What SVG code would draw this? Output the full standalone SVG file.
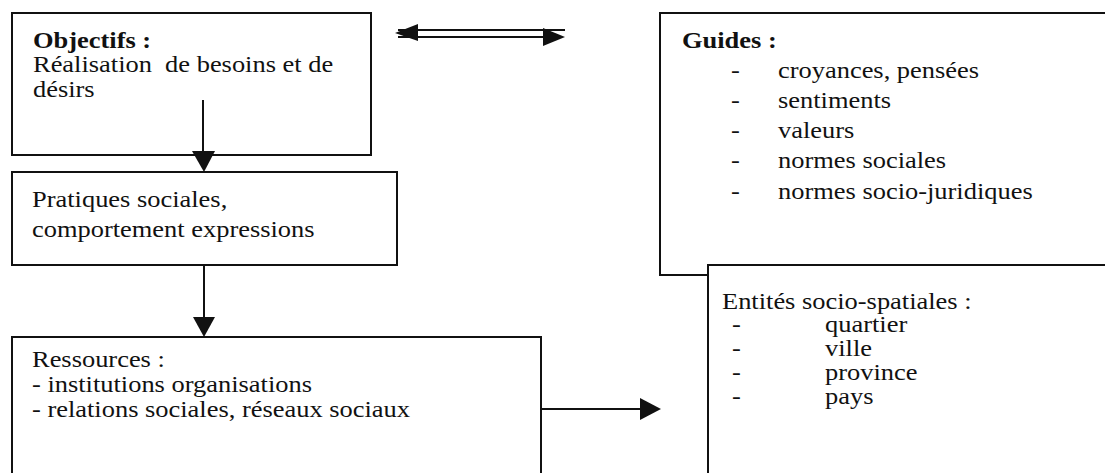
<svg xmlns="http://www.w3.org/2000/svg" width="1105" height="473" viewBox="0 0 1105 473">
<style>
.box{fill:#fff;stroke:#111;stroke-width:2}
.t{font-size:23px;fill:#111}
.b{font-weight:bold}
.ln{stroke:#111;stroke-width:2;fill:none}
.ah{fill:#111}
</style>
<rect width="1105" height="473" fill="#fff"/>
<g font-family="Liberation Serif, Times New Roman, DejaVu Serif, serif">
<g id="objectifs">
<rect class="box" x="12" y="13" width="359" height="142"/>
<g transform="translate(33,0) scale(1.15,1)">
<text class="t b" x="0" y="48">Objectifs :</text>
<text class="t" x="0" y="72" xml:space="preserve">Réalisation  de besoins et de</text>
<text class="t" x="0" y="97">désirs</text>
</g>
</g>
<g id="pratiques">
<rect class="box" x="12" y="172" width="385" height="93"/>
<g transform="translate(32,0) scale(1.15,1)">
<text class="t" x="0" y="207">Pratiques sociales,</text>
<text class="t" x="0" y="237">comportement expressions</text>
</g>
</g>
<g id="ressources">
<rect class="box" x="12" y="337" width="529" height="150"/>
<g transform="translate(32,0) scale(1.15,1)">
<text class="t" x="0" y="367">Ressources :</text>
<text class="t" x="0" y="392">- institutions organisations</text>
<text class="t" x="0" y="417">- relations sociales, réseaux sociaux</text>
</g>
</g>
<g id="guides">
<rect class="box" x="660" y="13" width="460" height="262"/>
<g transform="translate(682,0) scale(1.15,1)">
<text class="t b" x="0" y="48">Guides :</text>
</g>
<g transform="translate(731,0) scale(1.15,1)">
<text class="t" x="0" y="78">-</text>
<text class="t" x="0" y="108">-</text>
<text class="t" x="0" y="138">-</text>
<text class="t" x="0" y="168">-</text>
<text class="t" x="0" y="199">-</text>
</g>
<g transform="translate(778,0) scale(1.15,1)">
<text class="t" x="0" y="78">croyances, pensées</text>
<text class="t" x="0" y="108">sentiments</text>
<text class="t" x="0" y="138">valeurs</text>
<text class="t" x="0" y="168">normes sociales</text>
<text class="t" x="0" y="199">normes socio-juridiques</text>
</g>
</g>
<g id="entites">
<rect class="box" x="708" y="265" width="420" height="230"/>
<g transform="translate(722,0) scale(1.15,1)">
<text class="t" x="0" y="309">Entités socio-spatiales :</text>
</g>
<g transform="translate(732,0) scale(1.15,1)">
<text class="t" x="0" y="332">-</text>
<text class="t" x="0" y="356">-</text>
<text class="t" x="0" y="380">-</text>
<text class="t" x="0" y="404">-</text>
</g>
<g transform="translate(825,0) scale(1.15,1)">
<text class="t" x="0" y="332">quartier</text>
<text class="t" x="0" y="356">ville</text>
<text class="t" x="0" y="380">province</text>
<text class="t" x="0" y="404">pays</text>
</g>
</g>
</g>
<g id="connectors">
<line class="ln" x1="203" y1="100" x2="203" y2="155"/>
<polygon class="ah" points="192,151 215,151 204,172"/>
<line class="ln" x1="204" y1="265" x2="204" y2="318"/>
<polygon class="ah" points="193,317 215,317 204,337"/>
<line class="ln" x1="541" y1="409" x2="642" y2="409"/>
<polygon class="ah" points="640,398 640,420 661,409"/>
<line class="ln" x1="398" y1="30" x2="565" y2="30"/>
<line class="ln" x1="398" y1="37" x2="560" y2="37"/>
<polygon class="ah" points="395,33 418,24 418,41"/>
<polygon class="ah" points="565,37 543,28 543,46"/>
</g>
</svg>
